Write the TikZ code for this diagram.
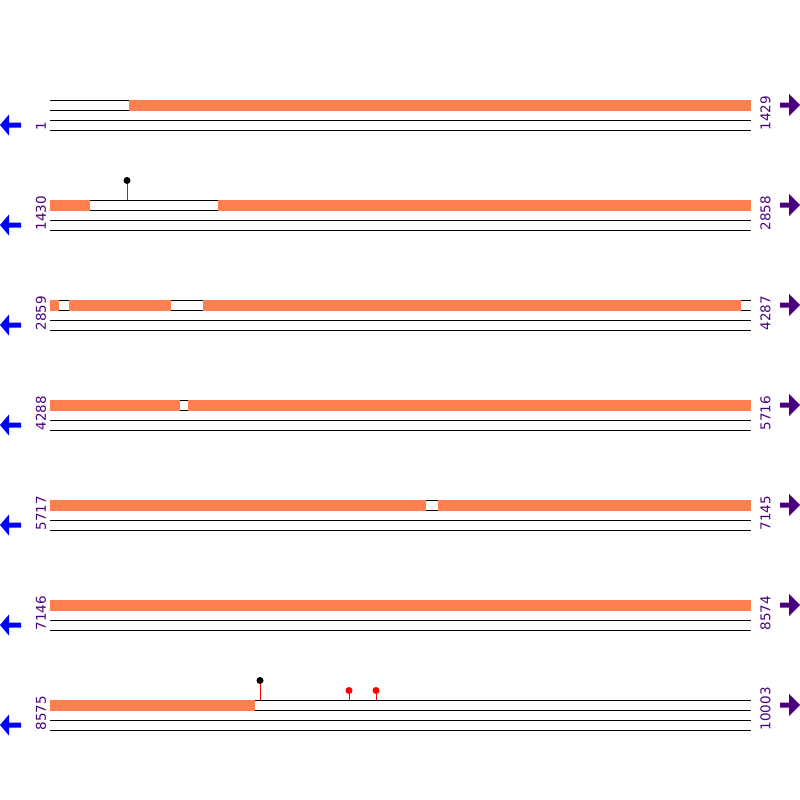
\documentclass[tikz,border=0pt]{standalone}
\usepackage{fontspec}
\setmainfont{DejaVu Sans}
\definecolor{seqorange}{RGB}{255,127,80}
\definecolor{lblpurple}{RGB}{75,0,130}
\begin{document}
\begin{tikzpicture}[x=1pt,y=-1pt,
  trackline/.style={black,line width=1pt},
  orangeseg/.style={fill=seqorange,draw=none},
  numlabel/.style={text=lblpurple,font=\fontsize{13.5}{14}\selectfont,rotate=90,anchor=west,inner sep=0pt},
  leftarrow/.style={fill=blue,draw=none},
  rightarrow/.style={fill=lblpurple,draw=none},
  stick/.style={red,line width=1pt},
  blackhead/.style={circle,fill=black,inner sep=0pt,minimum size=7pt},
  redhead/.style={circle,fill=red,inner sep=0pt,minimum size=7pt}]
\useasboundingbox (0,0) rectangle (800,800);
% rows
\foreach \r/\a/\b in {1/1/1429,2/1430/2858,3/2859/4287,4/4288/5716,5/5717/7145,6/7146/8574,7/8575/10003}{
  \pgfmathsetmacro{\yy}{100*\r}
  \draw[trackline] (50,\yy) -- (751,\yy);
  \draw[trackline] (50,\yy+10) -- (751,\yy+10);
  \draw[trackline] (50,\yy+20) -- (751,\yy+20);
  \draw[trackline] (50,\yy+30) -- (751,\yy+30);
  \node[numlabel] (L\r) at (41,\yy+30.5) {\a};
  \node[numlabel] (R\r) at (765.5,\yy+30.5) {\b};
  \fill[leftarrow] (0,\yy+25) -- (9,\yy+14.5) -- (9,\yy+22.5) -- (21,\yy+22.5) -- (21,\yy+27.5) -- (9,\yy+27.5) -- (9,\yy+35.5) -- cycle;
  \fill[rightarrow] (800,\yy+5) -- (789,\yy-6) -- (789,\yy+2.5) -- (780,\yy+2.5) -- (780,\yy+7.5) -- (789,\yy+7.5) -- (789,\yy+16) -- cycle;
}
% orange segments
\foreach \y/\x/\xx in {100/129/751,
  200/50/90, 200/218/751,
  300/50/59, 300/69/171, 300/203/741,
  400/50/180, 400/188/751,
  500/50/426, 500/438/751,
  600/50/751,
  700/50/255}{
  \fill[orangeseg] (\x,\y-0.5) rectangle (\xx,\y+10.5);
}
% lollipops
\coordinate (s1) at (127,200);
\node[blackhead] (h1) at (127,180.5) {};
\draw[stick] (s1) -- (h1);
\coordinate (s2) at (260,700);
\node[blackhead] (h2) at (260,680.5) {};
\draw[stick] (s2) -- (h2);
\coordinate (s3) at (349,700);
\node[redhead] (h3) at (349,690.5) {};
\draw[stick] (s3) -- (h3);
\coordinate (s4) at (376,700);
\node[redhead] (h4) at (376,690.5) {};
\draw[stick] (s4) -- (h4);
\end{tikzpicture}
\end{document}
